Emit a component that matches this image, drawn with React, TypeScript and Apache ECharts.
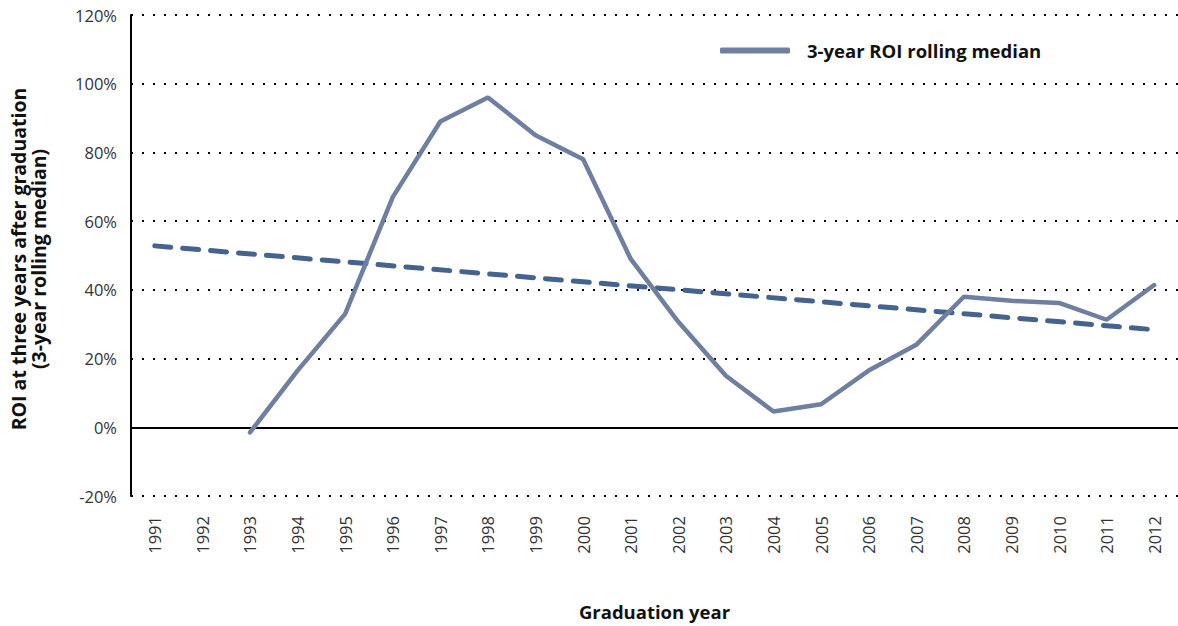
import React, { useEffect, useRef } from "react";
import * as echarts from "echarts";

const years = ["1991","1992","1993","1994","1995","1996","1997","1998","1999","2000","2001","2002","2003","2004","2005","2006","2007","2008","2009","2010","2011","2012"];
const rollingMedian: (number | null)[] = [null, null, -1.5, 16.5, 33, 67, 89, 96, 85, 78, 49, 30.7, 15, 4.6, 6.7, 16.5, 24, 38, 36.8, 36.2, 31.3, 41.4];
const trend: (number | null)[] = [52.8, null, null, null, null, null, null, null, null, null, null, null, null, null, null, null, null, null, null, null, null, 28.4];
const seriesName = "3-year ROI rolling median";
const yTitle1 = "ROI at three years after graduation";
const yTitle2 = "(3-year rolling median)";
const xTitle = "Graduation year";

const FONT = "'Open Sans', sans-serif";

export default function App() {
  const ref = useRef<HTMLDivElement>(null);
  useEffect(() => {
    if (!ref.current) return;
    const chart = echarts.init(ref.current, undefined, { renderer: "svg" });
    chart.setOption({
      animation: false,
      grid: { left: 131, right: 0, top: 15, bottom: 128, containLabel: false },
      legend: {
        data: [{ name: seriesName, icon: "roundRect" }],
        left: 715,
        top: 36,
        itemWidth: 70,
        itemHeight: 6,
        itemGap: 14,
        textStyle: { fontFamily: FONT, fontSize: 18.5, fontWeight: "bold", color: "#111", padding: [0, 0, 0, 12] },
      },
      xAxis: {
        type: "category",
        data: years,
        boundaryGap: true,
        axisLine: { show: false },
        axisTick: { show: false },
        axisLabel: { rotate: 90, margin: 20, fontFamily: FONT, fontSize: 16.5, color: "#333" },
        name: xTitle,
        nameLocation: "middle",
        nameGap: 106,
        nameTextStyle: { fontFamily: FONT, fontSize: 18.5, fontWeight: "bold", color: "#111" },
      },
      yAxis: {
        type: "value",
        min: -20,
        max: 120,
        interval: 20,
        axisLine: { show: true, lineStyle: { color: "#000", width: 2 } },
        axisTick: { show: false },
        axisLabel: { formatter: "{value}%", margin: 14, fontFamily: FONT, fontSize: 16.5, color: "#333" },
        splitLine: { show: true, lineStyle: { color: "#000", width: 2, type: [2, 9] } },
      },
      graphic: [
        {
          type: "text",
          x: 18,
          y: 259,
          rotation: Math.PI / 2,
          style: { text: yTitle1, fontFamily: FONT, fontSize: 19.5, fontWeight: "bold", fill: "#111", align: "center", verticalAlign: "middle" },
        },
        {
          type: "text",
          x: 38,
          y: 259,
          rotation: Math.PI / 2,
          style: { text: yTitle2, fontFamily: FONT, fontSize: 19.5, fontWeight: "bold", fill: "#111", align: "center", verticalAlign: "middle" },
        },
      ],
      series: [
        {
          name: "Trend",
          type: "line",
          data: trend,
          connectNulls: true,
          symbol: "none",
          lineStyle: { color: "#44638f", width: 5, type: [16, 12], cap: "round" },
          z: 3,
        },
        {
          name: seriesName,
          type: "line",
          data: rollingMedian,
          symbol: "none",
          itemStyle: { color: "#6e7fa1" },
          lineStyle: { color: "#6e7fa1", width: 4.5, cap: "round" },
          z: 4,
          markLine: {
            silent: true,
            symbol: "none",
            label: { show: false },
            lineStyle: { color: "#000", width: 2, type: "solid" },
            data: [{ yAxis: 0 }],
            z: 2,
          },
        },
      ],
    });
    return () => chart.dispose();
  }, []);
  return <div ref={ref} style={{ width: 1178, height: 626, position: "absolute", left: 0, top: 0 }} />;
}
